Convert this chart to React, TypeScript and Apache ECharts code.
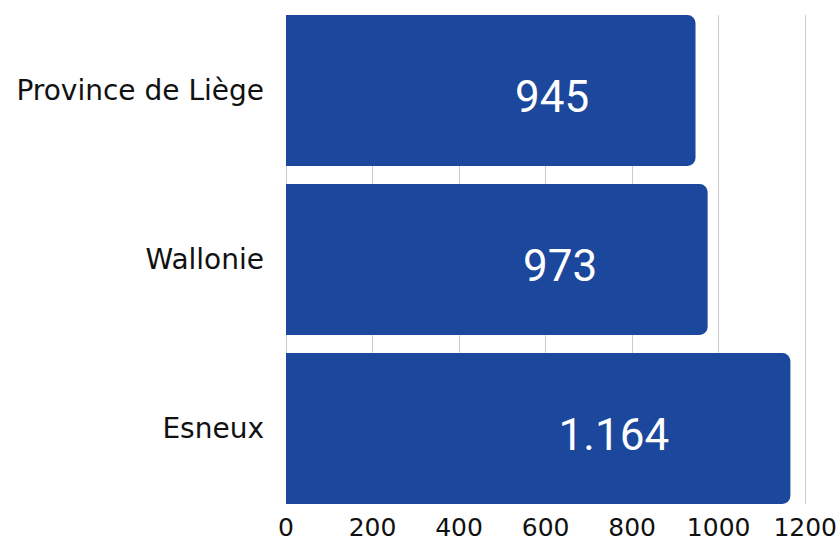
import React, { useEffect, useRef } from "react";
import * as echarts from "echarts";

const categories = ["Province de Liège", "Wallonie", "Esneux"];
const values = [945, 973, 1164];
const valueLabels = ["945", "973", "1.164"];
const xTicks = [0, 200, 400, 600, 800, 1000, 1200];

export default function App() {
  const ref = useRef<HTMLDivElement>(null);
  useEffect(() => {
    if (!ref.current) return;
    const chart = echarts.init(ref.current, undefined, { renderer: "svg" });
    const xMax = xTicks[xTicks.length - 1];
    chart.setOption({
      animation: false,
      grid: [
        { left: 286, right: 34, top: 6, bottom: 29, containLabel: false },
        { left: 286, right: 34, top: 15, bottom: 38, containLabel: false },
      ],
      xAxis: [
        {
          gridIndex: 0,
          type: "value",
          min: 0,
          max: xMax,
          interval: 200,
          axisLine: { show: false },
          axisTick: { show: false },
          splitLine: { show: false },
          axisLabel: { show: false },
        },
        {
          gridIndex: 1,
          type: "value",
          min: 0,
          max: xMax,
          interval: 200,
          axisLine: { show: false },
          axisTick: { show: false },
          splitLine: { show: true, lineStyle: { color: "#cccccc", width: 1 } },
          axisLabel: {
            show: true,
            margin: 11,
            color: "#111111",
            fontSize: 25,
            fontFamily: "DejaVu Sans",
            fontWeight: "normal",
            formatter: (v: number) => String(v),
          },
        },
      ],
      yAxis: [
        {
          gridIndex: 0,
          type: "category",
          data: categories,
          inverse: true,
          axisLine: { show: false },
          axisTick: { show: false },
          axisLabel: {
            margin: 22,
            color: "#111111",
            fontSize: 28,
            fontFamily: "DejaVu Sans",
          },
        },
        {
          gridIndex: 1,
          type: "category",
          data: categories,
          show: false,
        },
      ],
      series: [
        {
          type: "bar",
          xAxisIndex: 0,
          yAxisIndex: 0,
          data: values.map((v, i) => ({
            value: v,
            label: { formatter: valueLabels[i] },
          })),
          barCategoryGap: "10.7%",
          itemStyle: { color: "#1b479c", borderRadius: [0, 8, 8, 0] },
          label: {
            show: true,
            position: ["65%", "50%"],
            align: "center",
            verticalAlign: "middle",
            color: "#ffffff",
            fontSize: 44,
            fontFamily: "Roboto",
            offset: [0, 6],
          },
        },
      ],
    });
    return () => chart.dispose();
  }, []);
  return (
    <div
      ref={ref}
      style={{ position: "absolute", left: 0, top: 0, width: 840, height: 542 }}
    />
  );
}
